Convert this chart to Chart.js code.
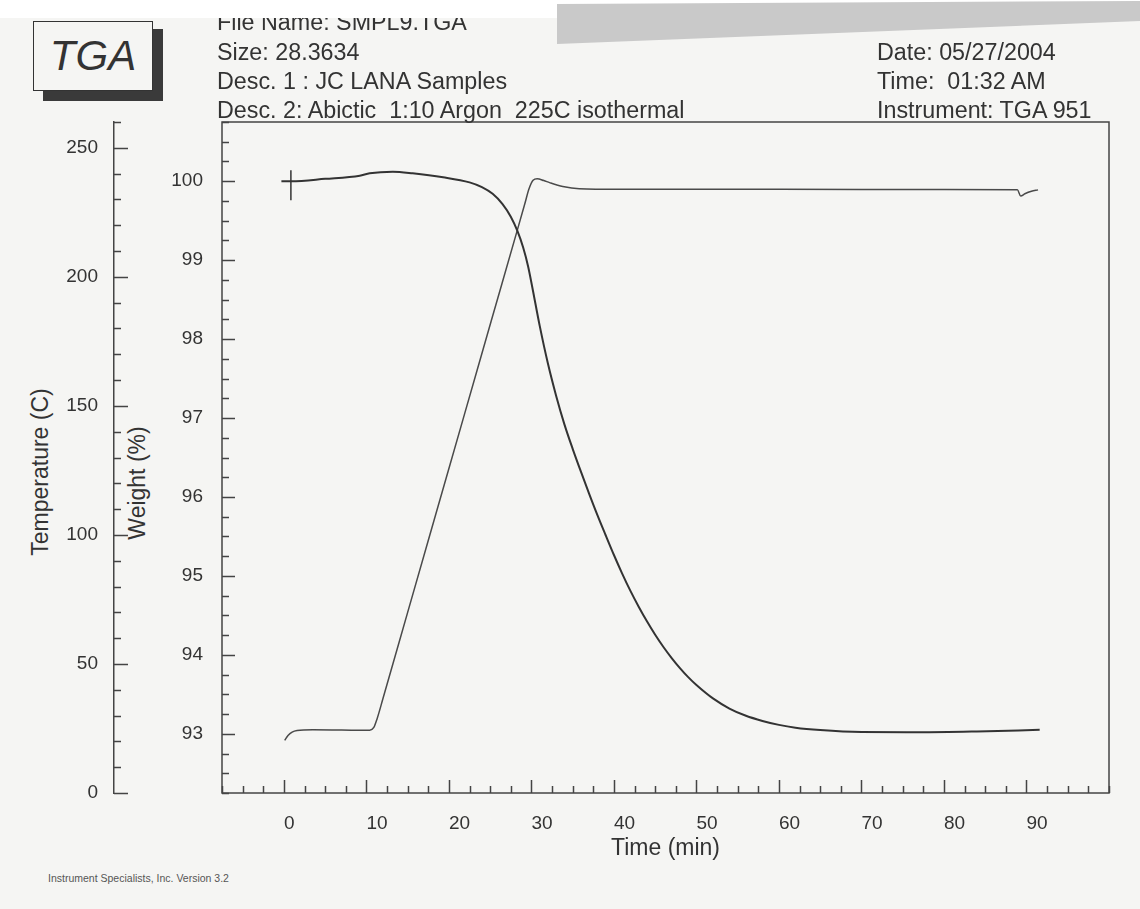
<!DOCTYPE html>
<html>
<head>
<meta charset="utf-8">
<title>TGA - SMPL9</title>
<script src="https://cdn.jsdelivr.net/npm/chart.js@4.4.0/dist/chart.umd.min.js"></script>
<style>
  html, body { margin: 0; padding: 0; }
  body {
    width: 1140px; height: 909px; position: relative; overflow: hidden;
    background: #f5f5f3; color: #333;
    font-family: "Liberation Sans", Arial, sans-serif;
  }
  #chart { position: absolute; left: 0; top: 0; }
  .txt { position: absolute; font-size: 23.3px; line-height: 23px; white-space: pre; z-index: 1; }
  .topband { position: absolute; left: 0; top: 0; width: 1140px; height: 18px; background: #fff; z-index: 2; }
  .scanband {
    position: absolute; left: 557px; top: 0; width: 583px; height: 46px; background: #c9c9c9; z-index: 3;
    clip-path: polygon(0 4px, 100% 1px, 100% 21px, 0 44px);
  }
  .tgashadow { position: absolute; left: 43px; top: 29px; width: 120px; height: 72px; background: #3a3a3a; }
  .tgabox {
    position: absolute; left: 33px; top: 21px; width: 120px; height: 70px; box-sizing: border-box;
    border: 1.5px solid #333; background: #f5f5f3;
  }
  .tgatext {
    position: absolute; left: 33px; top: 35px; width: 120px; text-align: center;
    font-size: 42px; line-height: 42px; font-style: italic; color: #333;
  }
  .ytitle { position: absolute; font-size: 23px; line-height: 23px; white-space: pre; transform: translate(-50%, -50%) rotate(-90deg); }
  .footer { position: absolute; left: 48px; top: 872px; font-size: 10.5px; line-height: 12px; color: #555; white-space: pre; }
</style>
</head>
<body>
<div class="topband"></div>
<div class="scanband"></div>

<div class="tgashadow"></div>
<div class="tgabox"></div>
<div class="tgatext">TGA</div>

<div class="txt" style="left:217px; top:11px;">File Name: SMPL9.TGA</div>
<div class="txt" style="left:217px; top:41px;">Size: 28.3634</div>
<div class="txt" style="left:217px; top:70px;">Desc. 1 : JC LANA Samples</div>
<div class="txt" style="left:217px; top:99px;">Desc. 2: Abictic  1:10 Argon  225C isothermal</div>
<div class="txt" style="left:877px; top:41px;">Date: 05/27/2004</div>
<div class="txt" style="left:877px; top:70px;">Time:  01:32 AM</div>
<div class="txt" style="left:877px; top:99px;">Instrument: TGA 951</div>

<div class="ytitle" style="left:40px; top:472px;">Temperature (C)</div>
<div class="ytitle" style="left:137px; top:483px;">Weight (%)</div>

<div class="footer">Instrument Specialists, Inc. Version 3.2</div>

<canvas id="chart" width="1140" height="909"></canvas>

<script>
// weight curve
const weightTime = [-0.3, 0.9, 5, 9.2, 10.4, 13.2, 15.6, 19.3, 22.5, 24, 25.3, 26.5, 27.5, 28.3, 29, 29.6, 30.1,
  31, 32, 33, 34, 35, 36, 37, 38, 39, 40, 41, 42, 43, 44, 45, 46, 47, 48, 49, 50,
  52, 54, 56, 58, 60, 62, 65, 70, 77, 84, 91.6];
const weightPct = [100.0, 100.0, 100.03, 100.07, 100.1, 100.12, 100.1, 100.05, 99.985, 99.925, 99.84, 99.71, 99.55, 99.37, 99.16, 98.92, 98.66,
  98.17, 97.69, 97.28, 96.92, 96.61, 96.32, 96.04, 95.77, 95.515, 95.265, 95.03, 94.81, 94.61, 94.425, 94.255, 94.1, 93.96, 93.833, 93.718, 93.618,
  93.448, 93.32, 93.228, 93.163, 93.113, 93.078, 93.048, 93.023, 93.02, 93.03, 93.05];

// temperature curve
const tempTime = [0.1, 0.5, 1.0, 1.6, 3.5, 7, 10.4, 10.9, 11.3, 12, 15, 18.4, 21.9, 25.1, 28.3, 29.2, 29.7,
  30.2, 30.7, 31.5, 32.2, 33.8, 35.8, 40.6, 60, 80, 88.9, 89.3, 89.8, 90.6, 91.4];
const tempC = [20.4, 22.3, 23.6, 24.2, 24.5, 24.4, 24.3, 25.4, 28.8, 36.5, 70, 107.9, 146.9, 182.6, 218.2, 228.3, 234,
  237.4, 238, 237.3, 236.5, 235, 234.1, 233.9, 233.9, 233.8, 233.7, 231.3, 232.2, 233.2, 233.7];

// start-of-run marker
const markerTime = [0.85];
const markerWeight = [99.95];

// axes
const TIME_MIN = -7.5, TIME_MAX = 100, TIME_MINOR = 2.5;
const TIME_TICKS = [0, 10, 20, 30, 40, 50, 60, 70, 80, 90];
const WEIGHT_MIN = 92.25, WEIGHT_MAX = 100.75, WEIGHT_MINOR = 0.25;
const WEIGHT_TICKS = [93, 94, 95, 96, 97, 98, 99, 100];
const TEMP_MIN = 0, TEMP_MAX = 260, TEMP_MINOR = 10;
const TEMP_TICKS = [0, 50, 100, 150, 200, 250];

const INK = '#333333';
const AXIS_COLOR = '#444444';
const tickFont = { family: '"Liberation Sans", Arial, sans-serif', size: 19 };

function toPoints(xs, ys) {
  return xs.map((x, i) => ({ x: x, y: ys[i] }));
}

// box round the plot and the inward tick marks (major long, minor short)
const frameAndTicks = {
  id: 'frameAndTicks',
  afterDraw(chart) {
    const { ctx, chartArea: a, scales } = chart;
    ctx.save();
    ctx.strokeStyle = AXIS_COLOR;
    ctx.lineWidth = 1.5;
    ctx.strokeRect(a.left, a.top, a.right - a.left, a.bottom - a.top);
    ctx.beginPath();
    for (let v = TIME_MIN; v <= TIME_MAX + 1e-9; v += TIME_MINOR) {
      const px = Math.round(scales.x.getPixelForValue(v)) + 0.5;
      const len = TIME_TICKS.includes(v) ? 13 : 7;
      ctx.moveTo(px, a.bottom);
      ctx.lineTo(px, a.bottom - len);
    }
    for (let v = WEIGHT_MIN; v <= WEIGHT_MAX + 1e-9; v += WEIGHT_MINOR) {
      const py = Math.round(scales.y.getPixelForValue(v)) + 0.5;
      const len = WEIGHT_TICKS.includes(v) ? 13 : 7;
      ctx.moveTo(a.left, py);
      ctx.lineTo(a.left + len, py);
    }
    const tx = scales.y1.right;
    for (let v = TEMP_MIN; v <= TEMP_MAX + 1e-9; v += TEMP_MINOR) {
      const py = Math.round(scales.y1.getPixelForValue(v)) + 0.5;
      const len = TEMP_TICKS.includes(v) ? 14 : 7;
      ctx.moveTo(tx, py);
      ctx.lineTo(tx + len, py);
    }
    ctx.stroke();
    ctx.restore();
  }
};

new Chart(document.getElementById('chart'), {
  type: 'scatter',
  data: {
    datasets: [
      {
        label: 'Weight (%)',
        data: toPoints(weightTime, weightPct),
        yAxisID: 'y',
        showLine: true,
        borderColor: INK,
        borderWidth: 2,
        pointRadius: 0,
        cubicInterpolationMode: 'monotone'
      },
      {
        label: 'Temperature (C)',
        data: toPoints(tempTime, tempC),
        yAxisID: 'y1',
        showLine: true,
        borderColor: '#4a4a4a',
        borderWidth: 1.5,
        pointRadius: 0,
        cubicInterpolationMode: 'monotone'
      },
      {
        label: 'start',
        data: toPoints(markerTime, markerWeight),
        yAxisID: 'y',
        showLine: false,
        pointStyle: 'line',
        rotation: 90,
        pointRadius: 15,
        borderColor: INK,
        borderWidth: 1.5
      }
    ]
  },
  options: {
    responsive: false,
    devicePixelRatio: 1,
    animation: false,
    layout: { padding: { left: 0, top: 122, right: 31, bottom: 46 } },
    plugins: { legend: { display: false }, tooltip: { enabled: false } },
    scales: {
      x: {
        type: 'linear',
        position: 'bottom',
        min: TIME_MIN,
        max: TIME_MAX,
        afterBuildTicks: s => { s.ticks = TIME_TICKS.map(v => ({ value: v })); },
        afterFit: s => { s.height = 70; },
        grid: { display: false, drawTicks: false },
        border: { display: false },
        ticks: { align: 'start', padding: 19, maxRotation: 0, autoSkip: false, color: INK, font: tickFont },
        title: {
          display: true, text: 'Time (min)', color: INK,
          font: { family: tickFont.family, size: 23 }, padding: { top: 0, bottom: 1 }
        }
      },
      y: {
        type: 'linear',
        position: 'left',
        weight: 0,
        min: WEIGHT_MIN,
        max: WEIGHT_MAX,
        afterBuildTicks: s => { s.ticks = WEIGHT_TICKS.map(v => ({ value: v })); },
        afterFit: s => { s.width = 108; },
        grid: { display: false, drawTicks: false },
        border: { display: false },
        ticks: { padding: 19, color: INK, font: tickFont }
      },
      y1: {
        type: 'linear',
        position: 'left',
        weight: 1,
        min: TEMP_MIN,
        max: TEMP_MAX,
        afterBuildTicks: s => { s.ticks = TEMP_TICKS.map(v => ({ value: v })); },
        afterFit: s => { s.width = 114; },
        grid: { display: false, drawTicks: false },
        border: { display: true, color: AXIS_COLOR, width: 1.5 },
        ticks: { padding: 16, color: INK, font: tickFont }
      }
    }
  },
  plugins: [frameAndTicks]
});
</script>
</body>
</html>
